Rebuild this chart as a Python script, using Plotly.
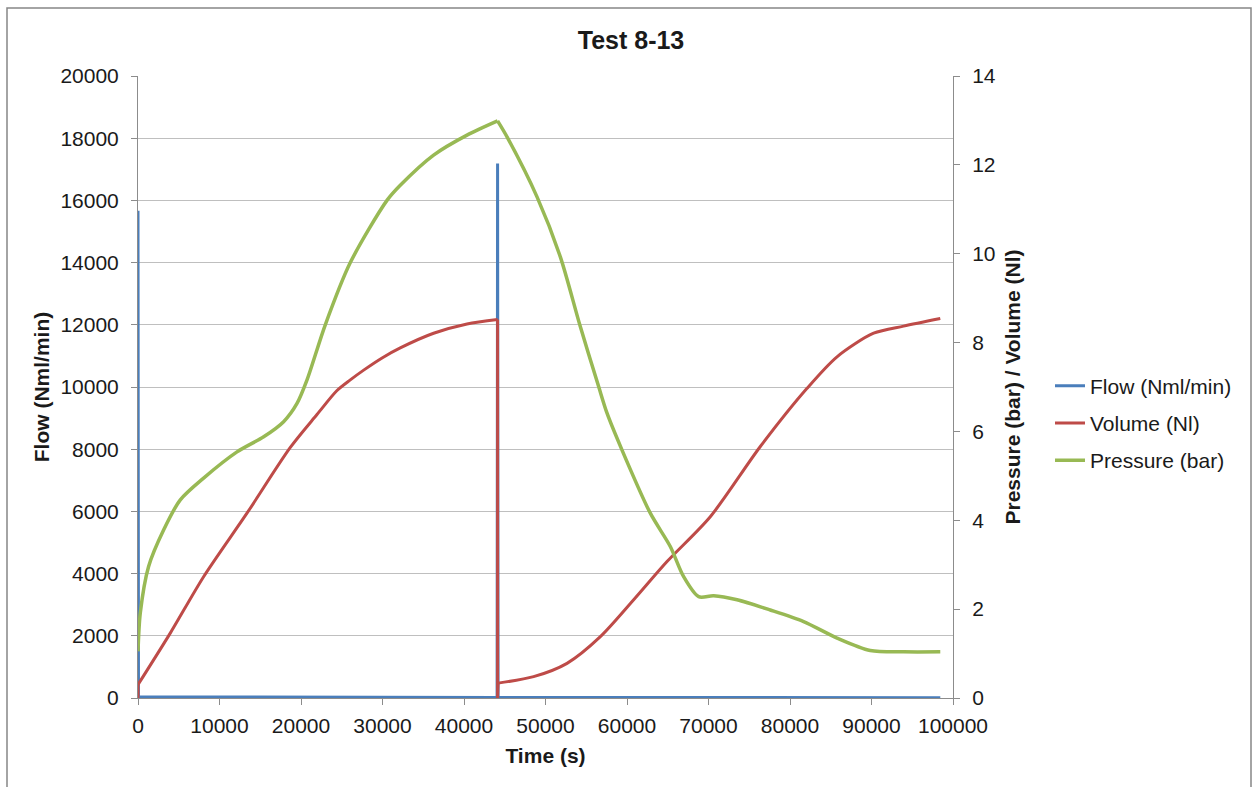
import plotly.graph_objects as go

# Time axis (s) and readings for each channel
flow_time = [0, 0, 60, 44060, 44120, 44180, 98440]
flow_vals = [0, 15665, 40, 20, 17190, 20, 10]

volume_time = [0, 0, 3960, 8050, 13370, 18690, 21960, 24420, 26050, 27690, 30000,
               32180, 36270, 40370, 44120, 44120, 44180, 48540, 52640, 56730,
               60820, 64910, 70220, 76360, 82090, 85770, 90260, 93940, 98440]
volume_vals = [0, 0.30, 1.46, 2.73, 4.16, 5.64, 6.38, 6.92, 7.16, 7.38, 7.66,
               7.88, 8.21, 8.42, 8.52, 0, 0.335, 0.48, 0.78, 1.38,
               2.21, 3.07, 4.08, 5.66, 6.97, 7.68, 8.21, 8.37, 8.54]

pressure_time = [0, 280, 1300, 3140, 5190, 8050, 12150, 15420, 17870, 19510, 20740,
                 22980, 26050, 30550, 32180, 36270, 40370, 44120, 45280, 48960,
                 51820, 54270, 56520, 57550, 59390, 62860, 65310, 66950, 68790,
                 70630, 73500, 77580, 81670, 85770, 89850, 93940, 98440]
pressure_vals = [1.05, 1.91, 2.96, 3.78, 4.46, 4.95, 5.54, 5.88, 6.22, 6.63, 7.16,
                 8.40, 9.80, 11.20, 11.54, 12.22, 12.67, 12.99, 12.63, 11.28,
                 9.93, 8.36, 7.01, 6.41, 5.58, 4.16, 3.41, 2.73, 2.28,
                 2.30, 2.21, 1.98, 1.72, 1.35, 1.07, 1.04, 1.04]

FONT = "Liberation Sans, Arial, sans-serif"
GRID = "#BFBFBF"
AXIS = "#8C8C8C"

fig = go.Figure()


def add_series(t, v, pieces, name, color, width, yaxis):
    """Draw one series as consecutive pieces (start, end, shape) sharing end points."""
    for k, (a, b, shape) in enumerate(pieces):
        line = dict(color=color, width=width, shape=shape)
        if shape == "spline":
            line["smoothing"] = 0.8
        fig.add_trace(go.Scatter(x=t[a:b + 1], y=v[a:b + 1], mode="lines", name=name,
                                 line=line, yaxis=yaxis, legendgroup=name,
                                 showlegend=(k == 0), hoverinfo="x+y+name"))


add_series(flow_time, flow_vals, [(0, len(flow_time) - 1, "linear")],
           "Flow (Nml/min)", "#4A7EBB", 3, "y")

drop = volume_vals.index(0, 2)
add_series(volume_time, volume_vals,
           [(0, 1, "linear"), (1, drop - 1, "spline"), (drop - 1, drop + 1, "linear"),
            (drop + 1, len(volume_time) - 1, "spline")],
           "Volume (Nl)", "#BE4B48", 3, "y2")

peak = pressure_vals.index(max(pressure_vals))
add_series(pressure_time, pressure_vals,
           [(0, peak, "spline"), (peak, len(pressure_time) - 1, "spline")],
           "Pressure (bar)", "#98B954", 3.5, "y2")

ML, MT, PW, PH = 138, 76, 815, 622

fig.update_layout(
    width=1258, height=787,
    margin=dict(l=ML, r=1258 - ML - PW, t=MT, b=787 - MT - PH),
    paper_bgcolor="white", plot_bgcolor="white",
    font=dict(family=FONT, size=21, color="#1a1a1a"),
    title=dict(text="<b>Test 8-13</b>", x=631 / 1258, xref="container", xanchor="center",
               y=1 - 40 / 787, yref="container", yanchor="middle",
               font=dict(size=25, family=FONT, color="#1a1a1a")),
    xaxis=dict(range=[0, 100000], dtick=10000, tickformat="d",
               showgrid=False, zeroline=False,
               showline=True, linecolor=AXIS, linewidth=1,
               ticks="outside", ticklen=6, tickcolor=AXIS, ticklabelstandoff=3,
               title=dict(text="<b>Time (s)</b>", font=dict(size=21), standoff=12)),
    yaxis=dict(range=[0, 20000], dtick=2000, tickformat="d",
               showgrid=True, gridcolor=GRID, gridwidth=1, zeroline=False,
               showline=True, linecolor=AXIS, linewidth=1,
               ticks="outside", ticklen=6, tickcolor=AXIS, ticklabelstandoff=8,
               title=dict(text="<b>Flow (Nml/min)</b>", font=dict(size=21), standoff=5)),
    yaxis2=dict(range=[0, 14], dtick=2, overlaying="y", side="right",
                showgrid=False, zeroline=False,
                showline=True, linecolor=AXIS, linewidth=1,
                ticks="outside", ticklen=6, tickcolor=AXIS, ticklabelstandoff=8,
                title=dict(text="<b>Pressure (bar) / Volume (Nl)</b>", font=dict(size=21),
                           standoff=10)),
    legend=dict(x=(1050 - ML) / PW, xanchor="left", y=(MT + PH - 423) / PH, yanchor="middle",
                traceorder="grouped", tracegroupgap=7,
                font=dict(size=21), bgcolor="rgba(0,0,0,0)"),
    showlegend=True,
)

# Outer chart frame
fig.add_shape(type="rect", xref="paper", yref="paper",
              x0=(7 - ML) / PW, x1=(1251 - ML) / PW,
              y0=(MT + PH - 800) / PH, y1=(MT + PH - 8) / PH,
              line=dict(color="#868686", width=1.5), layer="below")

fig.write_html("out.html")
